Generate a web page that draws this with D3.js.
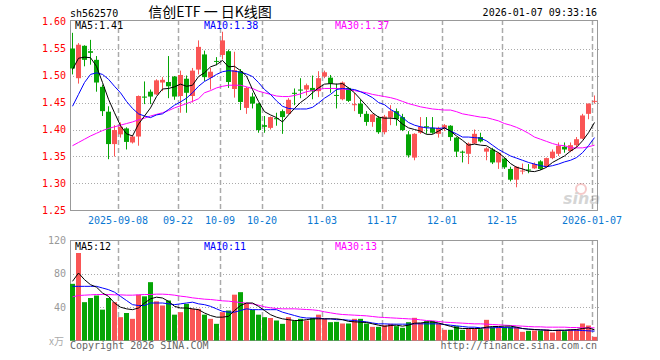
<!DOCTYPE html>
<html>
<head>
<meta charset="utf-8">
<script src="https://cdn.jsdelivr.net/npm/d3@7"></script>
<style>
body { margin: 0; background: #fff; }
text { font-family: "DejaVu Sans Mono", monospace; font-size: 10px; }
</style>
</head>
<body>
<svg id="chart" width="660" height="360"></svg>
<script>
////////////////// data ////////////////////
const dates = [
  "2025-08-27","2025-08-28","2025-08-29",
  "2025-09-01","2025-09-02","2025-09-03","2025-09-04","2025-09-05","2025-09-08","2025-09-09","2025-09-10","2025-09-11","2025-09-12",
  "2025-09-15","2025-09-16","2025-09-17","2025-09-18","2025-09-19","2025-09-22","2025-09-23","2025-09-24","2025-09-25","2025-09-26",
  "2025-09-29","2025-09-30",
  "2025-10-09","2025-10-10","2025-10-13","2025-10-14","2025-10-15","2025-10-16","2025-10-17","2025-10-20","2025-10-21","2025-10-22",
  "2025-10-23","2025-10-24","2025-10-27","2025-10-28","2025-10-29","2025-10-30","2025-10-31",
  "2025-11-03","2025-11-04","2025-11-05","2025-11-06","2025-11-07","2025-11-10","2025-11-11","2025-11-12","2025-11-13","2025-11-14",
  "2025-11-17","2025-11-18","2025-11-19","2025-11-20","2025-11-21","2025-11-24","2025-11-25","2025-11-26","2025-11-27","2025-11-28",
  "2025-12-01","2025-12-02","2025-12-03","2025-12-04","2025-12-05","2025-12-08","2025-12-09","2025-12-10","2025-12-11","2025-12-12",
  "2025-12-15","2025-12-16","2025-12-17","2025-12-18","2025-12-19","2025-12-22","2025-12-23","2025-12-24","2025-12-25","2025-12-26",
  "2025-12-29","2025-12-30","2025-12-31",
  "2026-01-05","2026-01-06","2026-01-07"
];
const openP = [1.550,1.495,1.555,1.545,1.529,1.479,1.433,1.373,1.391,1.402,1.376,1.387,1.461,1.470,1.465,1.487,1.488,1.498,1.462,1.494,
  1.462,1.511,1.539,1.496,1.527,1.538,1.545,1.475,1.508,1.440,1.461,1.448,1.408,1.403,1.421,1.434,1.429,1.468,1.474,1.474,
  1.477,1.471,1.498,1.496,1.464,1.456,1.477,1.445,1.448,1.429,1.414,1.422,1.395,1.422,1.434,1.423,1.391,1.348,1.394,1.406,
  1.403,1.392,1.403,1.407,1.385,1.359,1.355,1.374,1.386,1.359,1.363,1.339,1.346,1.327,1.307,1.323,1.326,1.328,1.341,1.331,
  1.347,1.355,1.368,1.360,1.371,1.383,1.429,1.452];
const highP = [1.579,1.560,1.556,1.566,1.536,1.483,1.443,1.408,1.413,1.404,1.389,1.463,1.489,1.474,1.493,1.497,1.536,1.499,1.509,1.500,
  1.514,1.565,1.546,1.514,1.534,1.581,1.548,1.544,1.512,1.479,1.468,1.449,1.425,1.424,1.431,1.437,1.458,1.476,1.495,1.485,
  1.500,1.508,1.509,1.501,1.485,1.489,1.478,1.468,1.456,1.434,1.429,1.425,1.427,1.445,1.439,1.429,1.397,1.393,1.423,1.423,
  1.423,1.405,1.410,1.408,1.386,1.361,1.376,1.400,1.394,1.367,1.366,1.358,1.348,1.331,1.332,1.337,1.336,1.339,1.343,1.348,
  1.363,1.376,1.376,1.376,1.386,1.429,1.448,1.463];
const lowP = [1.502,1.485,1.517,1.520,1.470,1.425,1.345,1.350,1.385,1.363,1.374,1.370,1.447,1.447,1.464,1.471,1.458,1.455,1.431,1.431,
  1.450,1.502,1.490,1.474,1.519,1.530,1.477,1.459,1.436,1.429,1.439,1.394,1.394,1.400,1.407,1.392,1.428,1.445,1.458,1.463,
  1.456,1.460,1.495,1.468,1.439,1.454,1.451,1.434,1.423,1.407,1.405,1.392,1.391,1.408,1.407,1.397,1.348,1.343,1.392,1.392,
  1.392,1.385,1.397,1.379,1.349,1.339,1.336,1.373,1.376,1.343,1.336,1.327,1.327,1.304,1.293,1.317,1.319,1.327,1.325,1.330,
  1.345,1.351,1.357,1.358,1.367,1.382,1.419,1.448];
const closeP = [1.513,1.557,1.529,1.542,1.487,1.434,1.373,1.399,1.405,1.377,1.387,1.462,1.459,1.461,1.491,1.492,1.480,1.461,1.501,1.468,
  1.509,1.553,1.497,1.507,1.526,1.565,1.488,1.510,1.451,1.477,1.448,1.399,1.405,1.423,1.419,1.423,1.455,1.466,1.472,1.482,
  1.471,1.495,1.506,1.485,1.463,1.487,1.453,1.447,1.429,1.414,1.428,1.395,1.424,1.434,1.419,1.399,1.352,1.392,1.405,1.404,
  1.394,1.403,1.408,1.386,1.359,1.357,1.374,1.392,1.378,1.365,1.339,1.357,1.330,1.307,1.331,1.324,1.325,1.336,1.327,1.347,
  1.359,1.370,1.363,1.371,1.382,1.426,1.448,1.453];
// moving averages
const ma5 = [1.511,1.532,1.534,1.533,1.517,1.487,1.456,1.431,1.407,1.392,1.388,1.410,1.425,1.440,1.461,1.475,1.476,1.479,1.484,1.480,
  1.482,1.498,1.505,1.516,1.520,1.528,1.516,1.517,1.509,1.499,1.474,1.452,1.433,1.427,1.422,1.414,1.427,1.439,1.450,1.458,
  1.468,1.477,1.484,1.485,1.484,1.485,1.477,1.468,1.456,1.444,1.431,1.423,1.421,1.421,1.420,1.410,1.403,1.400,1.397,1.391,
  1.391,1.397,1.403,1.397,1.388,1.380,1.371,1.373,1.371,1.370,1.363,1.357,1.348,1.337,1.330,1.327,1.323,1.322,1.325,1.330,
  1.339,1.345,1.351,1.360,1.367,1.379,1.394,1.413];
const ma10 = [1.443,1.465,1.487,1.502,1.505,1.502,1.493,1.480,1.468,1.452,1.439,1.429,1.425,1.422,1.427,1.429,1.437,1.445,1.451,1.458,
  1.468,1.480,1.489,1.495,1.502,1.507,1.509,1.508,1.506,1.503,1.498,1.487,1.474,1.465,1.453,1.443,1.439,1.438,1.438,1.438,
  1.441,1.449,1.458,1.465,1.474,1.476,1.475,1.474,1.470,1.465,1.459,1.450,1.446,1.437,1.431,1.422,1.413,1.408,1.405,1.403,
  1.403,1.402,1.403,1.397,1.392,1.386,1.386,1.385,1.384,1.379,1.371,1.363,1.357,1.351,1.347,1.343,1.339,1.336,1.333,1.331,
  1.333,1.336,1.340,1.343,1.348,1.357,1.370,1.385];
const ma30 = [1.370,1.376,1.382,1.388,1.393,1.398,1.402,1.405,1.408,1.411,1.414,1.418,1.421,1.425,1.428,1.431,1.435,1.440,1.444,1.448,
  1.452,1.457,1.468,1.472,1.477,1.480,1.482,1.482,1.482,1.479,1.476,1.471,1.468,1.465,1.462,1.461,1.461,1.463,1.466,1.470,
  1.472,1.474,1.476,1.476,1.476,1.475,1.474,1.472,1.470,1.468,1.465,1.463,1.461,1.459,1.456,1.452,1.448,1.445,1.442,1.440,
  1.438,1.437,1.436,1.436,1.433,1.429,1.427,1.425,1.423,1.422,1.419,1.416,1.411,1.408,1.404,1.399,1.393,1.386,1.382,1.378,
  1.374,1.371,1.370,1.366,1.366,1.366,1.368,1.371];
// volume, x万
const volume = [68,105,46,51,54,37,51,46,28,33,26,55,53,70,47,42,48,31,34,44,
  38,38,31,26,20,34,36,55,58,45,37,31,28,27,24,20,28,24,26,24,
  27,31,26,22,22.4,20.4,20.4,26,26,20.4,16.4,16.4,18.4,20,17.2,15.2,22,27.2,21.2,23.2,
  23.2,20.4,12.8,12.8,17.2,12.8,14.4,14.4,13.6,24.8,16,16,16,16,16,10.4,11.6,12,12,13.2,
  9.6,12.8,11.2,13.2,13.2,20.4,18,4.4];
const volMa5 = [71,81,73,67,64,57,53,45,40,38,37,39,45,50,52,51,47,41,39,39,
  38,37,33,30,28,28,29,36,42,45,45,41,36,31,28,26,25,24,24,25,
  26,26,26,26,26,25,23,22.4,22,21.6,20,18.4,17,18,18.4,17.2,18.4,20.8,21,22,
  22.4,21,19,17,15.2,14.4,14.4,14.4,14.4,16,16.8,16.8,17.2,17.2,16,14.4,13.6,13.2,12.8,12.4,
  12,12.4,12.4,12.8,13.2,14.4,15.2,12.8];
const volMa10 = [65,65,65,65,65,63,61,58,53,48,43,42,42,45,45,45,44,43,44,45,
  46,44,43,41,38,35,34,34,36,38,37,37,37,37,37,34,32,30,28,27,
  27,27,26,26,25,25,24.4,24,23,22.4,21,20,20,19.6,19.6,19.6,19.6,20,20,20,
  20,20,19.2,18.4,17.6,16.8,16,16,15.2,15.2,15.2,15.6,15.6,15.2,15.2,14.4,13.6,13.2,12.8,12.4,
  12,12,12,12.4,12.4,12,11.6,11.2];
const volMa30 = [52.4,54,54.4,54.8,55.2,55.2,55.2,54.8,54.8,54.4,54.4,54.8,55.2,55.2,55.6,55.6,55.2,54.4,53.2,52.4,
  51.2,50.4,49.6,49.2,48.4,47.6,47.2,46.4,45.6,44.8,44,42.4,40.4,39.2,38.4,38,38,38,37.6,37.2,
  36.8,36,34.4,33.2,32,31.2,30.8,30.4,30,29.6,28.8,28,27.6,27.2,26.8,26.4,26,25.6,24.8,24,
  23.6,22.8,22,21.6,21.2,20.8,20.4,20,20,19.6,19.2,18.8,18.4,18,17.6,17.2,16.8,16.4,16.4,16,
  16,16,16,15.6,15.6,15.2,15.2,15.2];
// axis labels
const priceTicks = [1.60, 1.55, 1.50, 1.45, 1.40, 1.35, 1.30, 1.25];
const volTicks = [120, 80, 40];
const dateTicks = ["2025-09-08","2025-09-22","2025-10-09","2025-10-20","2025-11-03","2025-11-17","2025-12-01","2025-12-15","2026-01-07"];
const dateLabels = ["2025-09-08","09-22","10-09","10-20","11-03","11-17","12-01","12-15","2026-01-07"];

////////////////// chart ////////////////////
const RED = "#fa5555", GREEN = "#05a505";
const svg = d3.select("#chart");
const left = 70, right = 597;
const x = d3.scaleBand().domain(dates).range([left, left + 6 * dates.length]).padding(0);
const yP = d3.scaleLinear().domain([1.25, 1.60]).range([210.5, 21.5]);
const yV = d3.scaleLinear().domain([0, 120]).range([340.5, 240.5]);
const idx = d3.range(dates.length);
const isUp = i => closeP[i] >= openP[i];
const cx = i => x(dates[i]) + 2.5;
const px = v => Math.round(v) + 0.5;

// top texts
svg.append("text").attr("x", 70).attr("y", 17).text("sh562570");
svg.append("text").attr("x", 210).attr("y", 17).attr("text-anchor", "middle")
    .style("font-family", "'Noto Sans CJK SC', sans-serif").style("font-size", "14px")
    .style("white-space", "pre").attr("xml:space", "preserve")
    .text("信创ETF 一 日K线图");
svg.append("text").attr("x", 597).attr("y", 16).attr("text-anchor", "end").text("2026-01-07 09:33:16");

// grids for both panels
function drawGrid(top, bottom, yVals) {
    svg.append("g").selectAll("line").data(yVals).join("line")
        .attr("x1", left).attr("x2", right + 2)
        .attr("y1", d => px(d)).attr("y2", d => px(d))
        .attr("stroke", "#aaa").attr("stroke-dasharray", "1,2");
    svg.append("g").selectAll("line").data(dateTicks).join("line")
        .attr("x1", d => x(d) + 0.5).attr("x2", d => x(d) + 0.5)
        .attr("y1", top).attr("y2", bottom)
        .attr("stroke", "#aaa").attr("stroke-width", 1.5).attr("stroke-dasharray", "5,3");
    svg.append("rect").attr("x", left + 0.5).attr("y", top + 0.5)
        .attr("width", right - left).attr("height", bottom - top)
        .attr("fill", "none").attr("stroke", "#999");
}
drawGrid(20, 210, priceTicks.filter(d => d < 1.6 && d > 1.25).map(yP));
drawGrid(240, 340, [80, 40].map(yV));

// price axis labels
svg.append("g").selectAll("text").data(priceTicks).join("text")
    .attr("x", 66).attr("y", d => yP(d) + 3.5).attr("text-anchor", "end")
    .attr("fill", "#f00").text(d => d.toFixed(2));
// date labels
svg.append("g").selectAll("text").data(dateTicks).join("text")
    .attr("x", d => x(d)).attr("y", 224).attr("text-anchor", "middle")
    .attr("fill", "#0a78d2").text((d, i) => dateLabels[i]);
// volume axis labels
svg.append("g").selectAll("text").data(volTicks).join("text")
    .attr("x", 66).attr("y", d => yV(d) + 3.5).attr("text-anchor", "end")
    .attr("fill", "#999").text(d => d);
svg.append("text").attr("x", 49).attr("y", 345).attr("fill", "#aaa")
    .style("font-family", "'Noto Sans CJK SC', sans-serif").text("x万");

// sina watermark
const wm = svg.append("g").attr("opacity", 0.3);
wm.append("circle").attr("cx", 581).attr("cy", 189).attr("r", 5).attr("fill", "none").attr("stroke", "#e05050").attr("stroke-width", 2);
wm.append("text").attr("x", 563).attr("y", 204).attr("fill", "#777")
    .style("font-family", "'DejaVu Sans', sans-serif").style("font-size", "16px")
    .style("font-weight", "bold").style("font-style", "italic").text("sina");

// candles
const candles = svg.append("g");
candles.selectAll("line").data(idx).join("line")
    .attr("x1", cx).attr("x2", cx)
    .attr("y1", i => yP(highP[i])).attr("y2", i => yP(lowP[i]))
    .attr("stroke", i => isUp(i) ? RED : GREEN);
candles.selectAll("rect").data(idx).join("rect")
    .attr("x", i => x(dates[i]))
    .attr("width", 5)
    .attr("y", i => yP(Math.max(openP[i], closeP[i])))
    .attr("height", i => Math.max(1, Math.abs(yP(openP[i]) - yP(closeP[i]))))
    .attr("fill", i => isUp(i) ? RED : GREEN);

// volume bars
svg.append("g").selectAll("rect").data(idx).join("rect")
    .attr("x", i => x(dates[i]))
    .attr("width", 5)
    .attr("y", i => yV(volume[i]))
    .attr("height", i => yV(0) - yV(volume[i]))
    .attr("fill", i => isUp(i) ? RED : GREEN);

// moving average lines
function drawLine(vals, yScale, color) {
    svg.append("path")
        .attr("d", d3.line().x(cx).y(i => yScale(vals[i]))(idx))
        .attr("fill", "none").attr("stroke", color).attr("stroke-width", 1);
}
drawLine(ma30, yP, "#ff00ff");
drawLine(ma10, yP, "#0000ff");
drawLine(ma5, yP, "#000");
drawLine(volMa30, yV, "#ff00ff");
drawLine(volMa10, yV, "#0000ff");
drawLine(volMa5, yV, "#000");

// legends
svg.append("text").attr("x", 75).attr("y", 29).text("MA5:1.41");
svg.append("text").attr("x", 204).attr("y", 29).attr("fill", "#0000ff").text("MA10:1.38");
svg.append("text").attr("x", 335).attr("y", 29).attr("fill", "#ff00ff").text("MA30:1.37");
svg.append("text").attr("x", 75).attr("y", 250).text("MA5:12");
svg.append("text").attr("x", 204).attr("y", 250).attr("fill", "#0000ff").text("MA10:11");
svg.append("text").attr("x", 335).attr("y", 250).attr("fill", "#ff00ff").text("MA30:13");

// footer
svg.append("text").attr("x", 70).attr("y", 349).attr("fill", "#666").text("Copyright 2026 SINA.COM");
svg.append("text").attr("x", 597).attr("y", 349).attr("text-anchor", "end").attr("fill", "#666").text("http://finance.sina.com.cn");
</script>
</body>
</html>
